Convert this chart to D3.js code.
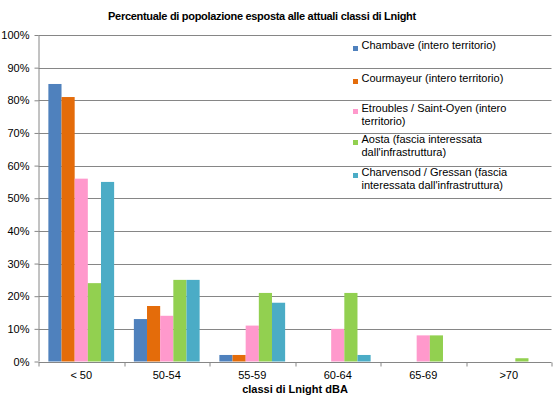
<!DOCTYPE html>
<html>
<head>
<meta charset="utf-8">
<script src="https://cdn.jsdelivr.net/npm/d3@7"></script>
<style>
  body { margin: 0; background: #fff; }
  svg { display: block; font-family: "Liberation Sans", Arial, sans-serif; }
</style>
</head>
<body>
<svg id="chart" width="555" height="410"></svg>
<script>
const categories = ["< 50", "50-54", "55-59", "60-64", "65-69", ">70"];
const seriesNames = [
  "Chambave (intero territorio)",
  "Courmayeur (intero territorio)",
  "Etroubles / Saint-Oyen (intero territorio)",
  "Aosta (fascia interessata dall'infrastruttura)",
  "Charvensod / Gressan (fascia interessata dall'infrastruttura)"
];
const legendLines = [
  ["Chambave (intero territorio)"],
  ["Courmayeur (intero territorio)"],
  ["Etroubles / Saint-Oyen (intero", "territorio)"],
  ["Aosta (fascia interessata", "dall'infrastruttura)"],
  ["Charvensod / Gressan (fascia", "interessata dall'infrastruttura)"]
];
const chambave = [85, 13, 2, 0, 0, 0];
const courmayeur = [81, 17, 2, 0, 0, 0];
const etroubles = [56, 14, 11, 10, 8, 0];
const aosta = [24, 25, 21, 21, 8, 1];
const charvensod = [55, 25, 18, 2, 0, 0];
const yTicks = [0, 10, 20, 30, 40, 50, 60, 70, 80, 90, 100];
const colors = ["#4f81bd", "#e46c0a", "#ff99cc", "#92d050", "#4bacc6"];

const series = [chambave, courmayeur, etroubles, aosta, charvensod];

const svg = d3.select("#chart");
const margin = { top: 35, right: 3.5, bottom: 48.5, left: 38.5 };
const width = 555 - margin.left - margin.right;
const height = 410 - margin.top - margin.bottom;

const g = svg.append("g").attr("transform", `translate(${margin.left},${margin.top})`);

const x0 = d3.scaleBand().domain(categories).range([0, width])
  .paddingInner(1.5 / 6.5).paddingOuter(0.75 / 6.5);
const x1 = d3.scaleBand().domain(d3.range(series.length)).range([0, x0.bandwidth()]);
const y = d3.scaleLinear().domain([0, 100]).range([height, 0]);

// gridlines
g.append("g")
  .selectAll("line")
  .data(yTicks.slice(1))
  .join("line")
  .attr("x1", 0)
  .attr("x2", width)
  .attr("y1", (d) => Math.round(y(d)) + 0.5)
  .attr("y2", (d) => Math.round(y(d)) + 0.5)
  .attr("stroke", "#868686")
  .attr("stroke-width", 1);

// bars
const groups = g.append("g")
  .selectAll("g")
  .data(categories)
  .join("g")
  .attr("transform", (d) => `translate(${x0(d)},0)`);

groups.selectAll("rect")
  .data((d, i) => series.map((s, k) => ({ k, v: s[i] })))
  .join("rect")
  .attr("x", (d) => x1(d.k))
  .attr("width", x1.bandwidth())
  .attr("y", (d) => y(d.v))
  .attr("height", (d) => height - y(d.v))
  .attr("fill", (d) => colors[d.k]);

// y axis
const yAxis = g.append("g")
  .call(d3.axisLeft(y).tickValues(yTicks).tickFormat((d) => d + "%").tickSize(4).tickPadding(5));
yAxis.select(".domain").attr("stroke", "#868686").attr("d", `M0.5,0V${height}`);
yAxis.selectAll(".tick line").attr("stroke", "#868686");
yAxis.selectAll(".tick text").attr("font-size", 11).attr("fill", "#000");
yAxis.attr("font-family", null);

// x axis
const step = x0.step();
const xAxis = g.append("g").attr("transform", `translate(0,${Math.round(height) + 0.5})`);
xAxis.append("line")
  .attr("x1", 0).attr("x2", width)
  .attr("stroke", "#868686");
xAxis.selectAll(".sep")
  .data(d3.range(categories.length + 1))
  .join("line")
  .attr("class", "sep")
  .attr("x1", (i) => Math.round(i * step) + 0.5)
  .attr("x2", (i) => Math.round(i * step) + 0.5)
  .attr("y1", 0).attr("y2", 4)
  .attr("stroke", "#868686");
xAxis.selectAll("text")
  .data(categories)
  .join("text")
  .attr("x", (d) => x0(d) + x0.bandwidth() / 2)
  .attr("y", 16)
  .attr("text-anchor", "middle")
  .attr("font-size", 11)
  .text((d) => d);

// axis title
svg.append("text")
  .attr("x", margin.left + width / 2)
  .attr("y", 393)
  .attr("text-anchor", "middle")
  .attr("font-size", 11)
  .attr("font-weight", "bold")
  .text("classi di Lnight dBA");

// chart title
svg.append("text")
  .attr("x", 262)
  .attr("y", 20)
  .attr("text-anchor", "middle")
  .attr("font-size", 11)
  .attr("font-weight", "bold")
  .attr("letter-spacing", -0.3)
  .text("Percentuale di popolazione esposta alle attuali classi di Lnight");

// legend
const legendTop = [49, 82, 112, 143, 176];
const legend = svg.append("g").attr("transform", "translate(353,0)");
legendLines.forEach((lines, k) => {
  const row = legend.append("g").attr("transform", `translate(0,${legendTop[k]})`);
  row.append("rect")
    .attr("x", 0).attr("y", -3)
    .attr("width", 5).attr("height", 5)
    .attr("fill", colors[k]);
  row.append("text")
    .attr("x", 8.5)
    .attr("y", 0)
    .attr("dy", "0.35em")
    .attr("font-size", 11)
    .selectAll("tspan")
    .data(lines)
    .join("tspan")
    .attr("x", 8.5)
    .attr("dy", (d, i) => (i === 0 ? 0 : 12.5))
    .text((d) => d);
});
</script>
</body>
</html>
